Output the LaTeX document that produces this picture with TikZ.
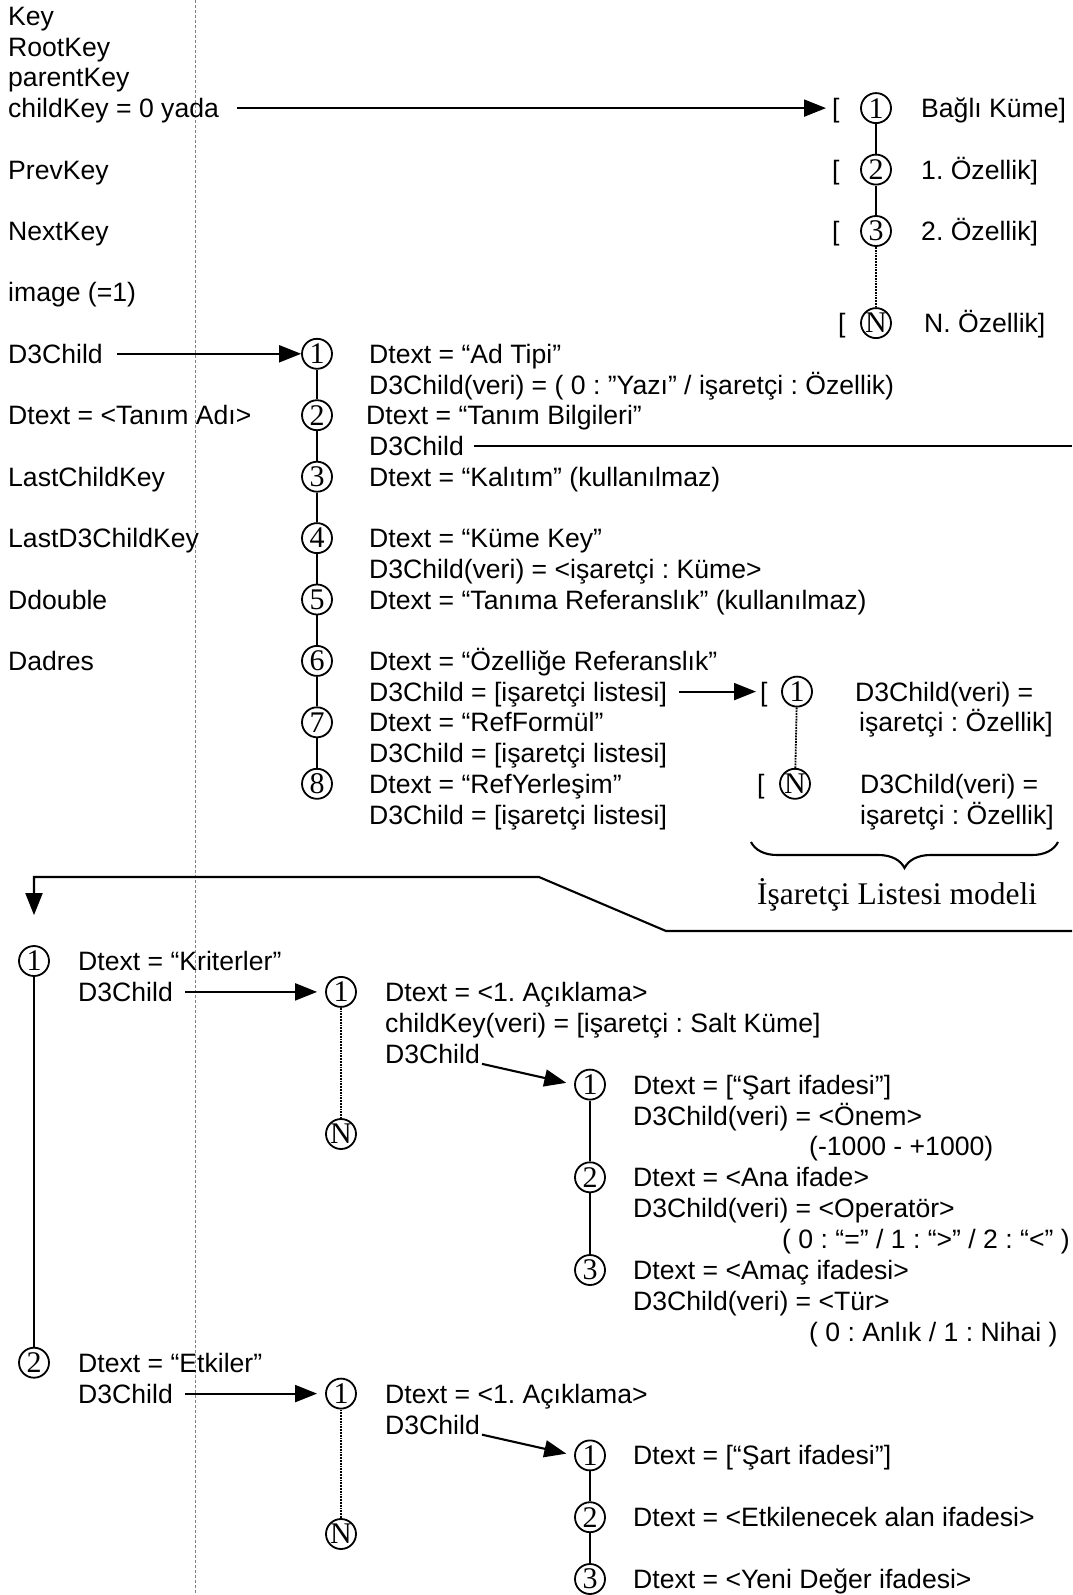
\documentclass[tikz,border=0pt]{standalone}
\usepackage{fontspec}
\setmainfont{Liberation Sans}
\newfontfamily\serifnum{Liberation Serif}
\usetikzlibrary{arrows.meta,decorations.pathreplacing,calc}
\frenchspacing
\newcommand\mfont{\frenchspacing\fontsize{26.6}{30}\selectfont}
\newcommand\cfont{\serifnum\fontsize{30}{30}\selectfont}
\newcommand\lfont{\frenchspacing\serifnum\fontsize{31.5}{34}\selectfont}
\tikzset{
  txt/.style={anchor=west, inner sep=0pt, text height=19pt, text depth=0pt, font=\mfont},
  cnum/.style={circle, draw, line width=1.8pt, minimum size=30pt, inner sep=0pt, font=\cfont},
  conn/.style={line width=2.1pt},
  arr/.style={line width=2.1pt, -{Triangle[length=22pt,width=17pt]}},
  dots/.style={line width=1.8pt, densely dotted},
  guide/.style={gray, densely dashed, line width=0.7pt}
}
\begin{document}
\begin{tikzpicture}[x=1pt,y=-1pt]
\useasboundingbox (0,0) rectangle (1072,1595);
% vertical guide
\coordinate (vt) at (195,0);
\coordinate (vb) at (195,1595);
\draw[guide] (vt) -- (vb);
% left column
\node[txt] (key) at (8,16) {Key};
\node[txt] (rootkey) at (8,46.7) {RootKey};
\node[txt] (parentkey) at (8,77.4) {parentKey};
\node[txt] (childkey) at (8,108.1) {childKey = 0 yada};
\node[txt] (prevkey) at (8,169.6) {PrevKey};
\node[txt] (nextkey) at (8,231) {NextKey};
\node[txt] (image) at (8,292.4) {image (=1)};
\node[txt] (d3child) at (8,353.8) {D3Child};
\node[txt] (dtextL) at (8,415.2) {Dtext = <Tanım Adı>};
\node[txt] (lastchild) at (8,476.7) {LastChildKey};
\node[txt] (lastd3) at (8,538.1) {LastD3ChildKey};
\node[txt] (ddouble) at (8,599.5) {Ddouble};
\node[txt] (dadres) at (8,660.9) {Dadres};
% top right list
\node[txt] (br1) at (832,108.1) {[};
\node[cnum] (t1) at (876,108.1) {1};
\node[txt] (tt1) at (921,108.1) {Bağlı Küme]};
\node[txt] (br2) at (832,169.6) {[};
\node[cnum] (t2) at (876,169.6) {2};
\node[txt] (tt2) at (921,169.6) {1. Özellik]};
\node[txt] (br3) at (832,231) {[};
\node[cnum] (t3) at (876,231) {3};
\node[txt] (tt3) at (921,231) {2. Özellik]};
\node[txt] (brN) at (838,323.1) {[};
\node[cnum] (tN) at (876,323.1) {N};
\node[txt] (ttN) at (924,323.1) {N. Özellik]};
\draw[conn] (t1) -- (t2);
\draw[conn] (t2) -- (t3);
\draw[dots] (t3) -- (tN);
\draw[arr, shorten <=18pt, shorten >=6pt] (childkey.east) -- (br1.west);
% middle column circles
\node[cnum] (m1) at (317,353.8) {1};
\node[cnum] (m2) at (317,415.2) {2};
\node[cnum] (m3) at (317,476.7) {3};
\node[cnum] (m4) at (317,538.1) {4};
\node[cnum] (m5) at (317,599.5) {5};
\node[cnum] (m6) at (317,660.9) {6};
\node[cnum] (m7) at (317,722.3) {7};
\node[cnum] (m8) at (317,783.8) {8};
\draw[conn] (m1) -- (m2);
\draw[conn] (m2) -- (m3);
\draw[conn] (m3) -- (m4);
\draw[conn] (m4) -- (m5);
\draw[conn] (m5) -- (m6);
\draw[conn] (m6) -- (m7);
\draw[conn] (m7) -- (m8);
\draw[arr, shorten <=14pt] (d3child.east) -- (m1.west);
% middle column texts
\node[txt] (a1) at (369,353.8) {Dtext = “Ad Tipi”};
\node[txt] (a2) at (369,384.5) {D3Child(veri) = ( 0 : ”Yazı” / işaretçi : Özellik)};
\node[txt] (a3) at (366,415.2) {Dtext = “Tanım Bilgileri”};
\node[txt] (a4) at (369,445.9) {D3Child};
\coordinate (edgeA) at (1072,445.9);
\draw[conn, shorten <=10pt] (a4.east) -- (edgeA);
\node[txt] (a5) at (369,476.7) {Dtext = “Kalıtım” (kullanılmaz)};
\node[txt] (a6) at (369,538.1) {Dtext = “Küme Key”};
\node[txt] (a7) at (369,568.8) {D3Child(veri) = <işaretçi : Küme>};
\node[txt] (a8) at (369,599.5) {Dtext = “Tanıma Referanslık” (kullanılmaz)};
\node[txt] (a9) at (369,660.9) {Dtext = “Özelliğe Referanslık”};
\node[txt] (a10) at (369,691.6) {D3Child = [işaretçi listesi]};
\node[txt] (a11) at (369,722.3) {Dtext = “RefFormül”};
\node[txt] (a12) at (369,753) {D3Child = [işaretçi listesi]};
\node[txt] (a13) at (369,783.8) {Dtext = “RefYerleşim”};
\node[txt] (a14) at (369,814.5) {D3Child = [işaretçi listesi]};
% pointer list model
\node[txt] (pb1) at (760,691.6) {[};
\node[cnum] (p1) at (797,691.6) {1};
\node[txt] (pt1) at (855,691.6) {D3Child(veri) =};
\node[txt] (pt2) at (859,722.3) {işaretçi : Özellik]};
\node[txt] (pbN) at (757,783.8) {[};
\node[cnum] (pN) at (795,783.8) {N};
\node[txt] (pt3) at (860,783.8) {D3Child(veri) =};
\node[txt] (pt4) at (860,814.5) {işaretçi : Özellik]};
\draw[dots] (p1) -- (pN);
\draw[arr, shorten <=12pt, shorten >=4pt] (a10.east) -- (pb1.west);
\coordinate (brL) at (751,842);
\coordinate (brR) at (1058,842);
\draw[conn, decorate, decoration={brace, mirror, amplitude=26pt}] (brL) -- (brR);
\node[font=\lfont, inner sep=0pt] (model) at (897,895) {İşaretçi Listesi modeli};
% lower section
\node[cnum] (b1) at (34,961) {1};
\node[cnum] (b2) at (34,1362.7) {2};
\draw[conn] (b1) -- (b2);
\coordinate (c1) at (1072,931);
\coordinate (c2) at (666,931);
\coordinate (c3) at (539,877);
\coordinate (c4) at (34,877);
\draw[arr, shorten >=30pt] (c1) -- (c2) -- (c3) -- (c4) -- (b1.north);
\node[txt] (bt1) at (78,961) {Dtext = “Kriterler”};
\node[txt] (bt2) at (78,991.9) {D3Child};
\node[cnum] (c1n) at (341,991.9) {1};
\node[cnum] (cN) at (341,1134) {N};
\draw[dots] (c1n) -- (cN);
\draw[arr, shorten <=12pt, shorten >=8pt] (bt2.east) -- (c1n.west);
\node[txt] (ct1) at (385,991.9) {Dtext = <1. Açıklama>};
\node[txt] (ct2) at (385,1022.8) {childKey(veri) = [işaretçi : Salt Küme]};
\node[txt] (ct3) at (385,1053.7) {D3Child};
\node[cnum] (d1) at (590,1084.6) {1};
\node[cnum] (d2) at (590,1177.3) {2};
\node[cnum] (d3) at (590,1270) {3};
\draw[conn] (d1) -- (d2);
\draw[conn] (d2) -- (d3);
\draw[arr, shorten <=2pt, shorten >=8pt] (ct3.south east) -- (d1.west);
\node[txt] (dt1) at (633,1084.6) {Dtext = [“Şart ifadesi”]};
\node[txt] (dt2) at (633,1115.5) {D3Child(veri) = <Önem>};
\node[txt] (dt3) at (809,1146.4) {(-1000 - +1000)};
\node[txt] (dt4) at (633,1177.3) {Dtext = <Ana ifade>};
\node[txt] (dt5) at (633,1208.2) {D3Child(veri) = <Operatör>};
\node[txt] (dt6) at (782,1239.1) {( 0 : “=” / 1 : “>” / 2 : “<” )};
\node[txt] (dt7) at (633,1270) {Dtext = <Amaç ifadesi>};
\node[txt] (dt8) at (633,1300.9) {D3Child(veri) = <Tür>};
\node[txt] (dt9) at (809,1331.8) {( 0 : Anlık / 1 : Nihai )};
% second block
\node[txt] (bt3) at (78,1362.7) {Dtext = “Etkiler”};
\node[txt] (bt4) at (78,1393.6) {D3Child};
\node[cnum] (e1n) at (341,1393.6) {1};
\node[cnum] (eN) at (341,1534) {N};
\draw[dots] (e1n) -- (eN);
\draw[arr, shorten <=12pt, shorten >=8pt] (bt4.east) -- (e1n.west);
\node[txt] (et1) at (385,1393.6) {Dtext = <1. Açıklama>};
\node[txt] (et2) at (385,1424.5) {D3Child};
\node[cnum] (f1) at (590,1455.4) {1};
\node[cnum] (f2) at (590,1517.2) {2};
\node[cnum] (f3) at (590,1579) {3};
\draw[conn] (f1) -- (f2);
\draw[conn] (f2) -- (f3);
\draw[arr, shorten <=2pt, shorten >=8pt] (et2.south east) -- (f1.west);
\node[txt] (ft1) at (633,1455.4) {Dtext = [“Şart ifadesi”]};
\node[txt] (ft2) at (633,1517.2) {Dtext = <Etkilenecek alan ifadesi>};
\node[txt] (ft3) at (633,1579) {Dtext = <Yeni Değer ifadesi>};
\end{tikzpicture}
\end{document}
